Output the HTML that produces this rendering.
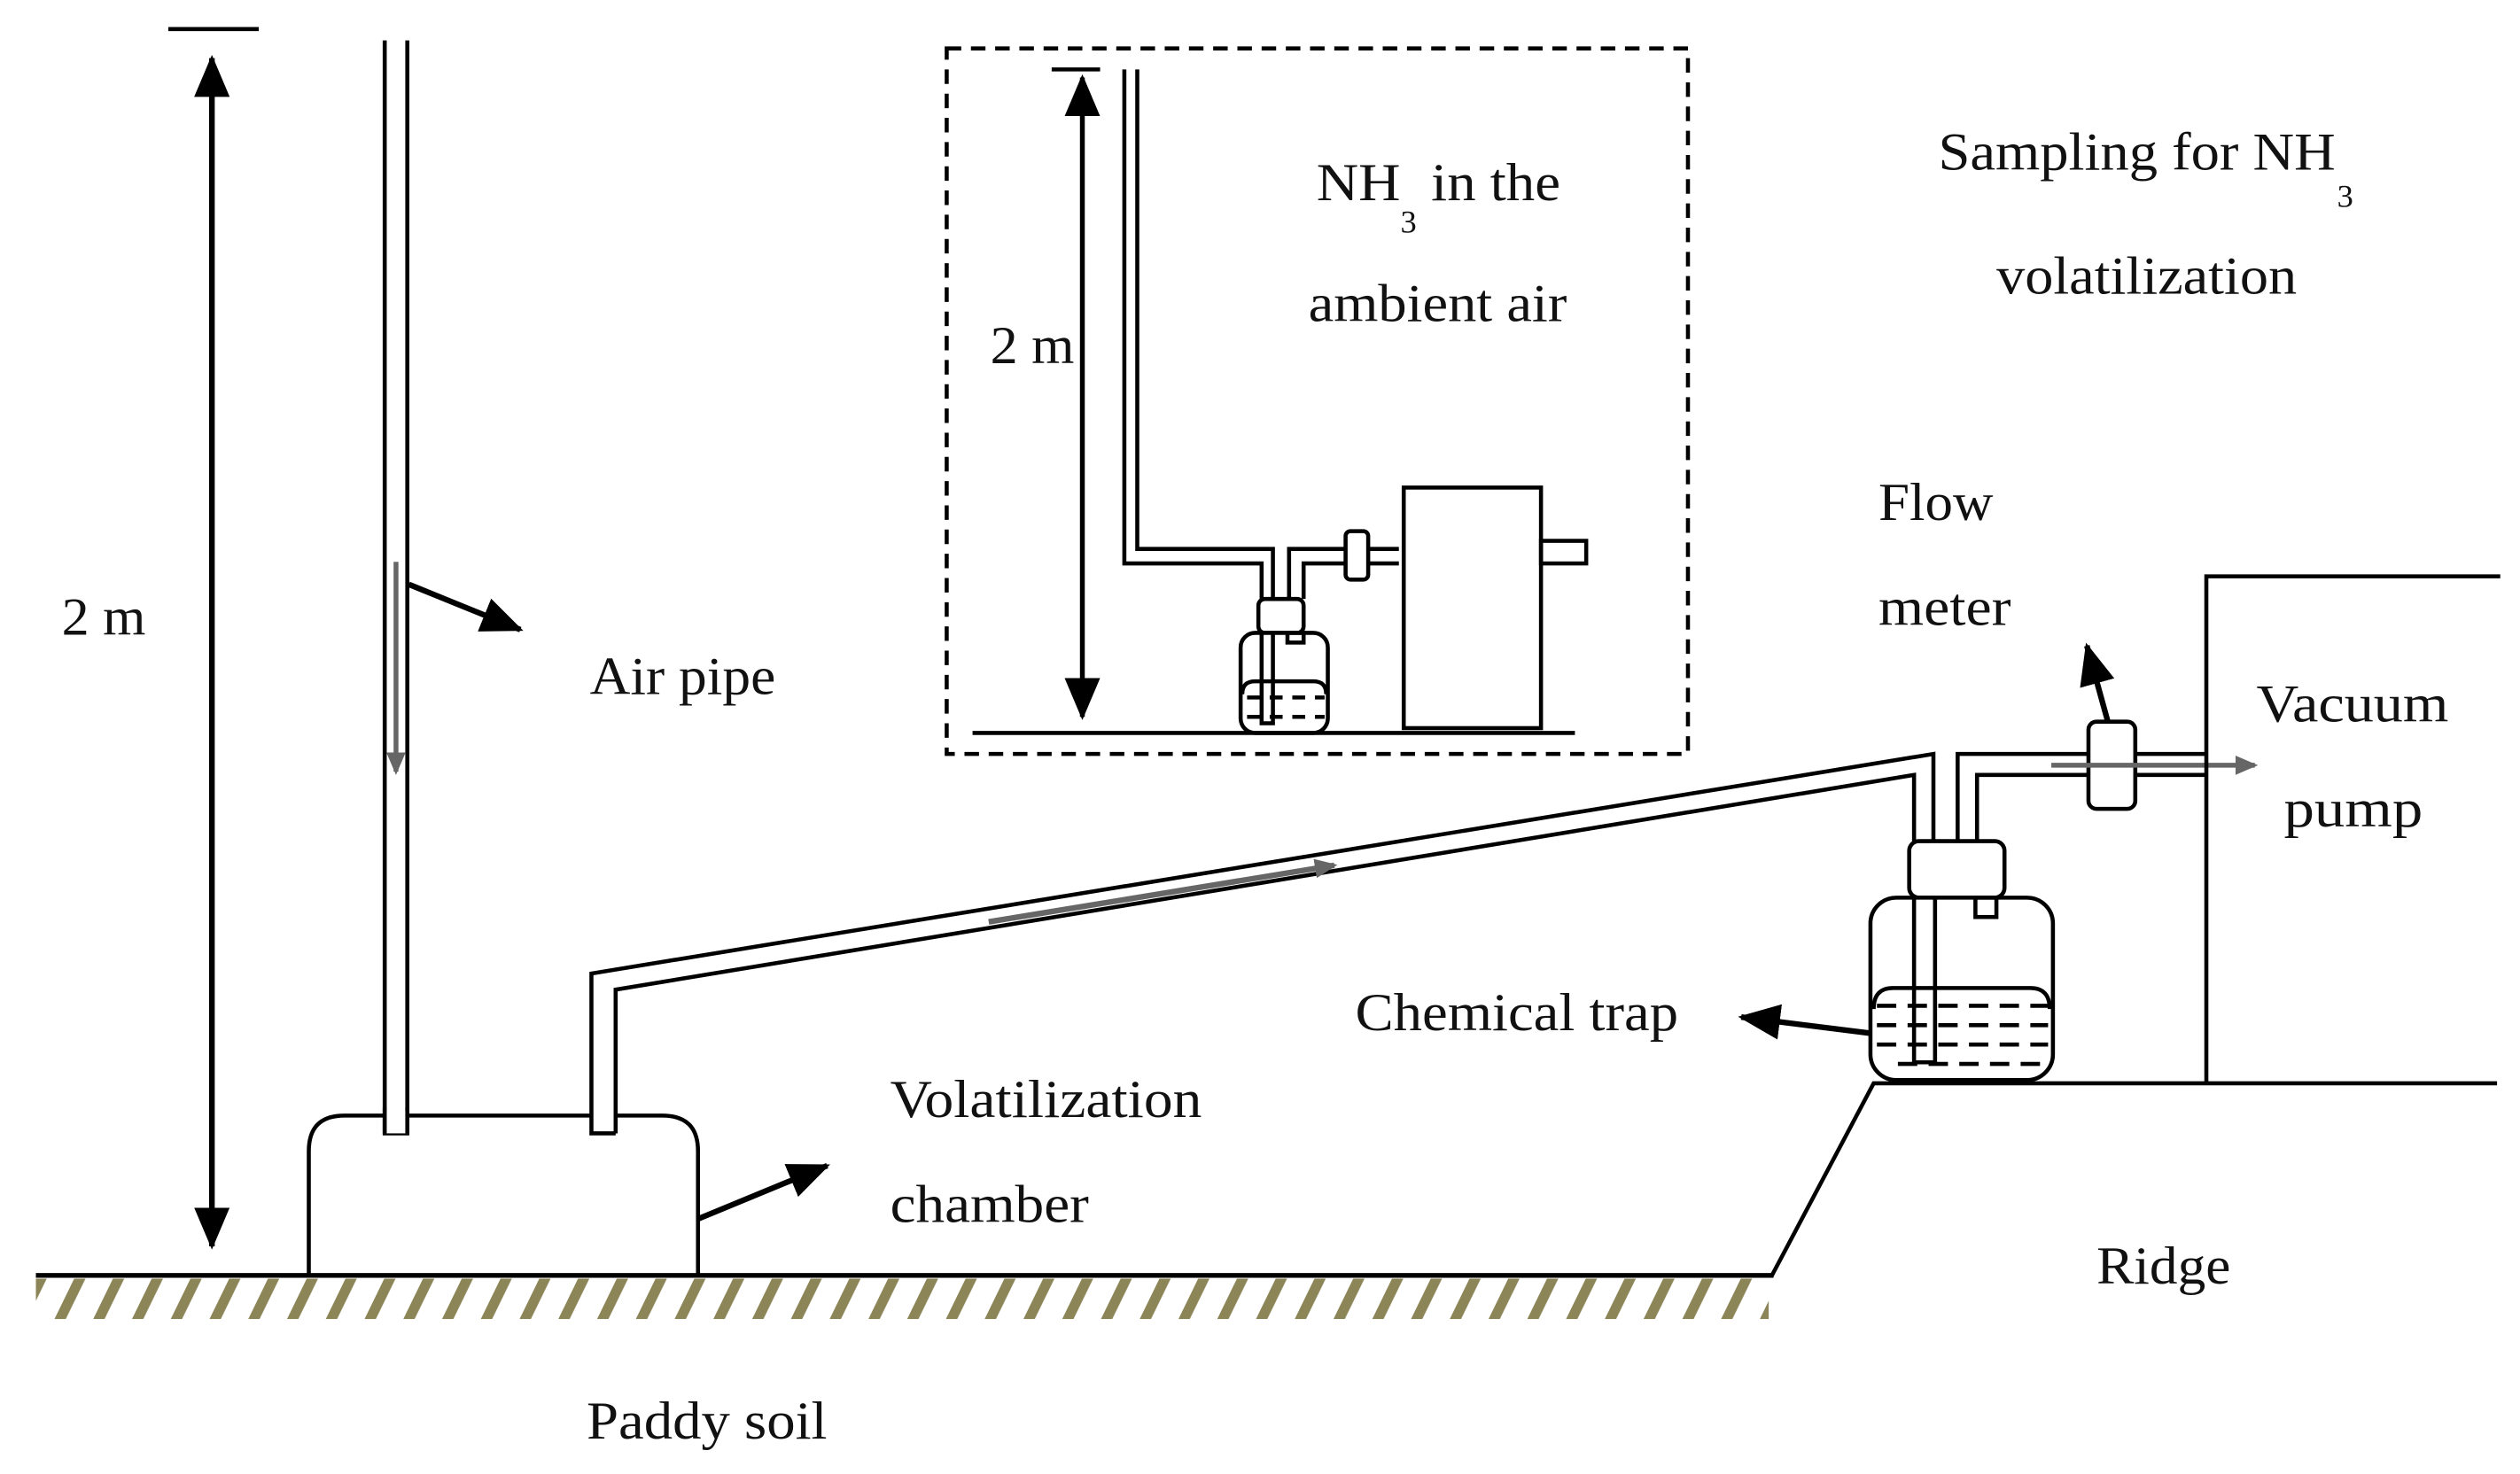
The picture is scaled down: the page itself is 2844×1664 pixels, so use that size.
<!DOCTYPE html>
<html><head><meta charset="utf-8"><style>
html,body{margin:0;padding:0;background:#fff;}
svg{display:block;}
text{font-family:"Liberation Serif",serif;font-size:33px;fill:#111;}
</style></head><body>
<svg width="2844" height="1664" viewBox="0 0 1560 913" xmlns="http://www.w3.org/2000/svg">
<defs>
<marker id="ab" markerWidth="26" markerHeight="22" refX="24" refY="11" orient="auto" markerUnits="userSpaceOnUse">
<path d="M0,0 L26,11 L0,22 Z" fill="#000"/></marker>
<marker id="ab2" markerWidth="26" markerHeight="22" refX="2" refY="11" orient="auto" markerUnits="userSpaceOnUse">
<path d="M26,0 L0,11 L26,22 Z" fill="#000"/></marker>
<marker id="ag" markerWidth="14" markerHeight="12" refX="12" refY="6" orient="auto" markerUnits="userSpaceOnUse">
<path d="M0,0 L14,6 L0,12 Z" fill="#666"/></marker>
<pattern id="hatch" width="24" height="25" patternUnits="userSpaceOnUse" patternTransform="skewX(-26)">
<rect x="0" y="0" width="7" height="25" fill="#8c8557"/></pattern>
</defs>
<g fill="none" stroke="#000" stroke-width="2.5">
<rect x="22" y="792" width="1073" height="25" fill="url(#hatch)" stroke="none"/>
<line x1="22" y1="790" x2="1098" y2="790" stroke-width="3"/>
<polyline points="1097,790 1160,671 1546,671" stroke-width="2.5"/>
<line x1="104" y1="18" x2="160" y2="18"/>
<line x1="131" y1="36" x2="131" y2="772" stroke-width="3.5" marker-start="url(#ab2)" marker-end="url(#ab)"/>
<polyline points="238,25 238,702 252,702 252,25"/>
<line x1="245" y1="348" x2="245" y2="478" stroke="#666" stroke-width="3" marker-end="url(#ag)"/>
<line x1="253" y1="362" x2="322" y2="390" stroke-width="3.5" marker-end="url(#ab)"/>
<path d="M191,790 L191,713 Q191,691 213,691 L410,691 Q432,691 432,713 L432,790"/>
<rect x="238" y="688" width="14" height="14" fill="#fff" stroke="none"/>
<line x1="238" y1="686" x2="238" y2="702"/><line x1="252" y1="686" x2="252" y2="702"/>
<rect x="367" y="686" width="14" height="14" fill="#fff" stroke="none"/>
<polyline points="381,702 366,702 366,603 1197,467 1197,523"/>
<polyline points="381,702 381,613 1185,480 1185,523"/>
<line x1="612" y1="571" x2="826" y2="536" stroke="#666" stroke-width="3.5" marker-end="url(#ag)"/>
<line x1="432" y1="755" x2="512" y2="722" stroke-width="3.5" marker-end="url(#ab)"/>
<polyline points="1212,523 1212,467 1366,467"/>
<polyline points="1224,523 1224,480 1366,480"/>
<rect x="1293" y="447" width="29" height="54" rx="5" fill="#fff"/>
<line x1="1270" y1="474" x2="1396" y2="474" stroke="#666" stroke-width="3" marker-end="url(#ag)"/>
<line x1="1305" y1="447" x2="1292" y2="400" stroke-width="3.5" marker-end="url(#ab)"/>
<rect x="1182" y="521" width="59" height="35" rx="6" fill="#fff"/>
<rect x="1158" y="556" width="113" height="113" rx="16" fill="#fff"/>
<path d="M1160,625 Q1160,612 1172,612 L1257,612 Q1269,612 1269,625"/>
<rect x="1223" y="556" width="13" height="12"/>
<polyline points="1185,556 1185,658 1198,658 1198,556"/>
<g stroke-dasharray="12,7" stroke-width="2.5">
<line x1="1162" y1="623" x2="1268" y2="623"/>
<line x1="1162" y1="635" x2="1268" y2="635"/>
<line x1="1162" y1="647" x2="1268" y2="647"/>
<line x1="1175" y1="659" x2="1268" y2="659"/>
</g>
<line x1="1158" y1="640" x2="1078" y2="630" stroke-width="3.5" marker-end="url(#ab)"/>
<polyline points="1366,671 1366,357 1548,357"/>
<rect x="586" y="30" width="459" height="437" stroke-dasharray="9,6"/>
<line x1="651" y1="43" x2="681" y2="43"/>
<line x1="670" y1="48" x2="670" y2="444" stroke-width="3" marker-start="url(#ab2)" marker-end="url(#ab)"/>
<polyline points="696,43 696,349 781,349 781,371"/>
<polyline points="704,43 704,340 788,340 788,371"/>
<polyline points="798,371 798,340 866,340"/>
<polyline points="807,371 807,349 866,349"/>
<rect x="833" y="329" width="14" height="30" rx="3" fill="#fff"/>
<rect x="869" y="302" width="85" height="149"/>
<rect x="954" y="335" width="28" height="14"/>
<rect x="779" y="371" width="28" height="21" rx="4" fill="#fff"/>
<rect x="768" y="392" width="54" height="62" rx="9" fill="#fff"/>
<path d="M769,430 Q769,422 777,422 L813,422 Q821,422 821,430"/>
<rect x="797" y="392" width="10" height="6"/>
<polyline points="781,392 781,448 788,448 788,392"/>
<g stroke-dasharray="8,6"><line x1="772" y1="432" x2="820" y2="432"/><line x1="772" y1="444" x2="820" y2="444"/></g>
<line x1="602" y1="454" x2="975" y2="454"/>
</g>
<g>
<text x="38" y="393" textLength="52" lengthAdjust="spacingAndGlyphs">2 m</text>
<text x="365" y="430" textLength="115" lengthAdjust="spacingAndGlyphs">Air pipe</text>
<text x="551" y="692" textLength="193" lengthAdjust="spacingAndGlyphs">Volatilization</text>
<text x="551" y="757" textLength="123" lengthAdjust="spacingAndGlyphs">chamber</text>
<text x="363" y="891" textLength="149" lengthAdjust="spacingAndGlyphs">Paddy soil</text>
<text x="839" y="638" textLength="200" lengthAdjust="spacingAndGlyphs">Chemical trap</text>
<text x="1298" y="795" textLength="83" lengthAdjust="spacingAndGlyphs">Ridge</text>
<text x="1163" y="322" textLength="71" lengthAdjust="spacingAndGlyphs">Flow</text>
<text x="1163" y="387" textLength="82" lengthAdjust="spacingAndGlyphs">meter</text>
<text x="1397" y="447" textLength="119" lengthAdjust="spacingAndGlyphs">Vacuum</text>
<text x="1414" y="512" textLength="86" lengthAdjust="spacingAndGlyphs">pump</text>
<text x="1200" y="105" textLength="246" lengthAdjust="spacingAndGlyphs">Sampling for NH</text>
<text x="1447" y="128" style="font-size:20px">3</text>
<text x="1236" y="182" textLength="186" lengthAdjust="spacingAndGlyphs">volatilization</text>
<text x="613" y="225" textLength="52" lengthAdjust="spacingAndGlyphs">2 m</text>
<text x="815" y="124" textLength="52" lengthAdjust="spacingAndGlyphs">NH</text>
<text x="867" y="144" style="font-size:20px">3</text>
<text x="886" y="124" textLength="80" lengthAdjust="spacingAndGlyphs">in the</text>
<text x="810" y="199" textLength="160" lengthAdjust="spacingAndGlyphs">ambient air</text>
</g>
</svg>
</body></html>
